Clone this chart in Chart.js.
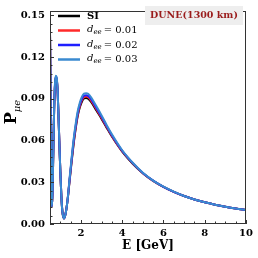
<!DOCTYPE html>
<html><head><meta charset="utf-8">
<script src="https://cdn.jsdelivr.net/npm/chart.js@4/dist/chart.umd.min.js"></script>
<style>html,body{margin:0;padding:0;background:#fff;}canvas{display:block;}</style>
</head><body>
<canvas id="c" width="258" height="258"></canvas>
<script>
const energies = [0.50,0.52,0.54,0.56,0.58,0.60,0.63,0.66,0.70,0.74,0.78,0.82,0.86,0.90,0.95,1.00,1.05,1.10,1.17,1.25,1.35,1.45,1.55,1.65,1.75,1.85,1.95,2.05,2.15,2.25,2.35,2.50,2.75,3.00,3.25,3.50,4.00,4.50,5.00,5.50,6.00,6.50,7.00,7.50,8.00,8.50,9.00,9.50,10.0];
const probSI  = [0.137,0.104,0.062,0.028,0.013,0.013,0.028,0.052,0.082,0.099,0.105,0.104,0.098,0.083,0.060,0.038,0.020,0.009,0.004,0.007,0.017,0.031,0.045,0.058,0.069,0.078,0.084,0.088,0.0902,0.0905,0.0900,0.0875,0.0815,0.0755,0.0690,0.0628,0.0520,0.0435,0.0365,0.0310,0.0267,0.0231,0.0201,0.0176,0.0156,0.0139,0.0124,0.0111,0.0100];
const probD01 = [0.137,0.104,0.062,0.028,0.013,0.013,0.028,0.052,0.082,0.0995,0.1055,0.1045,0.098,0.083,0.060,0.038,0.020,0.009,0.004,0.007,0.017,0.0315,0.0458,0.0590,0.0700,0.0790,0.0850,0.0890,0.0912,0.0915,0.0910,0.0885,0.0824,0.0762,0.0696,0.0633,0.0523,0.0437,0.0365,0.0310,0.0267,0.0231,0.0201,0.0176,0.0156,0.0139,0.0124,0.0111,0.0100];
const probD02 = [0.137,0.104,0.062,0.028,0.013,0.013,0.028,0.052,0.082,0.100,0.106,0.105,0.098,0.083,0.060,0.038,0.020,0.009,0.004,0.007,0.017,0.0320,0.0466,0.0600,0.0710,0.0800,0.0860,0.0900,0.0922,0.0925,0.0920,0.0895,0.0833,0.0770,0.0702,0.0638,0.0526,0.0439,0.0366,0.0311,0.0267,0.0231,0.0201,0.0176,0.0156,0.0139,0.0124,0.0111,0.0100];
const probD03 = [0.137,0.104,0.062,0.028,0.013,0.013,0.028,0.052,0.082,0.1005,0.1065,0.1055,0.0985,0.083,0.060,0.038,0.020,0.009,0.004,0.007,0.017,0.0330,0.0478,0.0615,0.0725,0.0815,0.0875,0.0915,0.0937,0.0940,0.0935,0.0908,0.0845,0.0780,0.0710,0.0645,0.0530,0.0442,0.0368,0.0312,0.0268,0.0232,0.0201,0.0176,0.0156,0.0139,0.0124,0.0111,0.0100];
const xTicks = [2,4,6,8,10];
const yTicks = [0.00,0.03,0.06,0.09,0.12,0.15];
const seriesNames = ['SI','0.01','0.02','0.03'];
const seriesColors = ['#000000','#ff2a2a','#1f1fff','#3a8ad0'];
const seriesData = [probSI, probD01, probD02, probD03];

const SERIF = "'DejaVu Serif', 'Liberation Serif', serif";

const datasets = seriesData.map((arr,i)=>({
  label: seriesNames[i],
  data: energies.map((e,k)=>({x:e,y:arr[k]})),
  borderColor: seriesColors[i],
  borderWidth: 2,
  pointRadius: 0,
  fill: false,
  cubicInterpolationMode: 'monotone',
  order: 4-i
}));

const decor = {
  id:'decor',
  afterDraw(chart){
    const ctx = chart.ctx, a = chart.chartArea;
    const xs = chart.scales.x, ys = chart.scales.y;
    ctx.save();
    // frame
    ctx.strokeStyle = '#333';
    ctx.lineWidth = 1;
    ctx.strokeRect(Math.round(a.left)+0.5, Math.round(a.top)+0.5, Math.round(a.right-a.left)-1, Math.round(a.bottom-a.top)-1);
    // ticks
    ctx.beginPath();
    for (let v=0.5; v<=10.001; v+=0.5){
      const px = Math.round(xs.getPixelForValue(v))+0.5;
      const major = Math.abs(v/2-Math.round(v/2))<1e-6;
      const L = major?4:2.5;
      ctx.moveTo(px, a.bottom); ctx.lineTo(px, a.bottom-L);
    }
    for (let k=0; k<=25; k++){
      const v = k*0.006;
      if (v>ys.max) break;
      const py = Math.round(ys.getPixelForValue(v))+0.5;
      const L = (k%5===0)?4:2.5;
      ctx.moveTo(a.left, py); ctx.lineTo(a.left+L, py);
    }
    ctx.stroke();
    // title box
    ctx.fillStyle = '#eeeeee';
    ctx.fillRect(145, 6, 98, 19);
    ctx.fillStyle = '#9a1c1c';
    ctx.font = 'bold 9.5px ' + SERIF;
    ctx.textAlign = 'center'; ctx.textBaseline = 'middle';
    ctx.fillText('DUNE(1300 km)', 194, 16);
    // legend
    const rows = [16, 30.5, 45, 59.5];
    for (let i=0;i<4;i++){
      const y = rows[i];
      ctx.strokeStyle = seriesColors[i]; ctx.lineWidth = 2.5;
      ctx.beginPath(); ctx.moveTo(58,y); ctx.lineTo(80,y); ctx.stroke();
      ctx.fillStyle = '#000'; ctx.textAlign='left'; ctx.textBaseline='middle';
      if (i===0){
        ctx.font = 'bold 10px ' + SERIF;
        ctx.fillText('SI', 87, y);
      } else {
        ctx.font = 'italic 10px ' + SERIF;
        ctx.fillText('d', 87, y-1);
        let x = 87 + ctx.measureText('d').width;
        ctx.font = 'italic 7px ' + SERIF;
        ctx.fillText('ee', x, y+2);
        x += ctx.measureText('ee').width + 2;
        ctx.font = '10px ' + SERIF;
        ctx.fillText('= ' + seriesNames[i], x, y);
      }
    }
    // axis titles
    ctx.fillStyle = '#000';
    ctx.font = 'bold 12px ' + SERIF;
    ctx.textAlign='center'; ctx.textBaseline='middle';
    ctx.fillText('E [GeV]', (a.left+a.right)/2, 246);
    ctx.translate(12, 112);
    ctx.rotate(-Math.PI/2);
    ctx.font = 'bold 16px ' + SERIF;
    const wP = ctx.measureText('P').width;
    ctx.font = 'italic 10px ' + SERIF;
    const wS = ctx.measureText('\u03bce').width;
    const start = -(wP+wS)/2;
    ctx.textAlign='left';
    ctx.font = 'bold 16px ' + SERIF;
    ctx.fillText('P', start, 0);
    ctx.font = 'italic 10px ' + SERIF;
    ctx.fillText('\u03bce', start+wP, 5);
    ctx.restore();
  }
};

new Chart(document.getElementById('c'), {
  type:'line',
  data:{datasets},
  options:{
    responsive:false, animation:false, devicePixelRatio:1,
    layout:{padding:{left:0,right:12,top:8,bottom:0}},
    plugins:{legend:{display:false}, tooltip:{enabled:false}},
    scales:{
      x:{type:'linear', min:0.5, max:10,
        grid:{display:false, drawTicks:false}, border:{display:false},
        afterBuildTicks(s){ s.ticks = xTicks.map(v=>({value:v})); },
        afterFit(s){ s.height = 34; },
        ticks:{padding:3, color:'#000', font:{family:SERIF, size:10, weight:'bold'}, maxRotation:0, callback:v=>String(v)}
      },
      y:{type:'linear', min:0, max:0.153,
        grid:{display:false, drawTicks:false}, border:{display:false},
        afterBuildTicks(s){ s.ticks = yTicks.map(v=>({value:v})); },
        afterFit(s){ s.width = 50; },
        ticks:{padding:5, color:'#000', font:{family:SERIF, size:10, weight:'bold'}, callback:v=>v.toFixed(2)}
      }
    }
  },
  plugins:[decor]
});
</script>
</body></html>
